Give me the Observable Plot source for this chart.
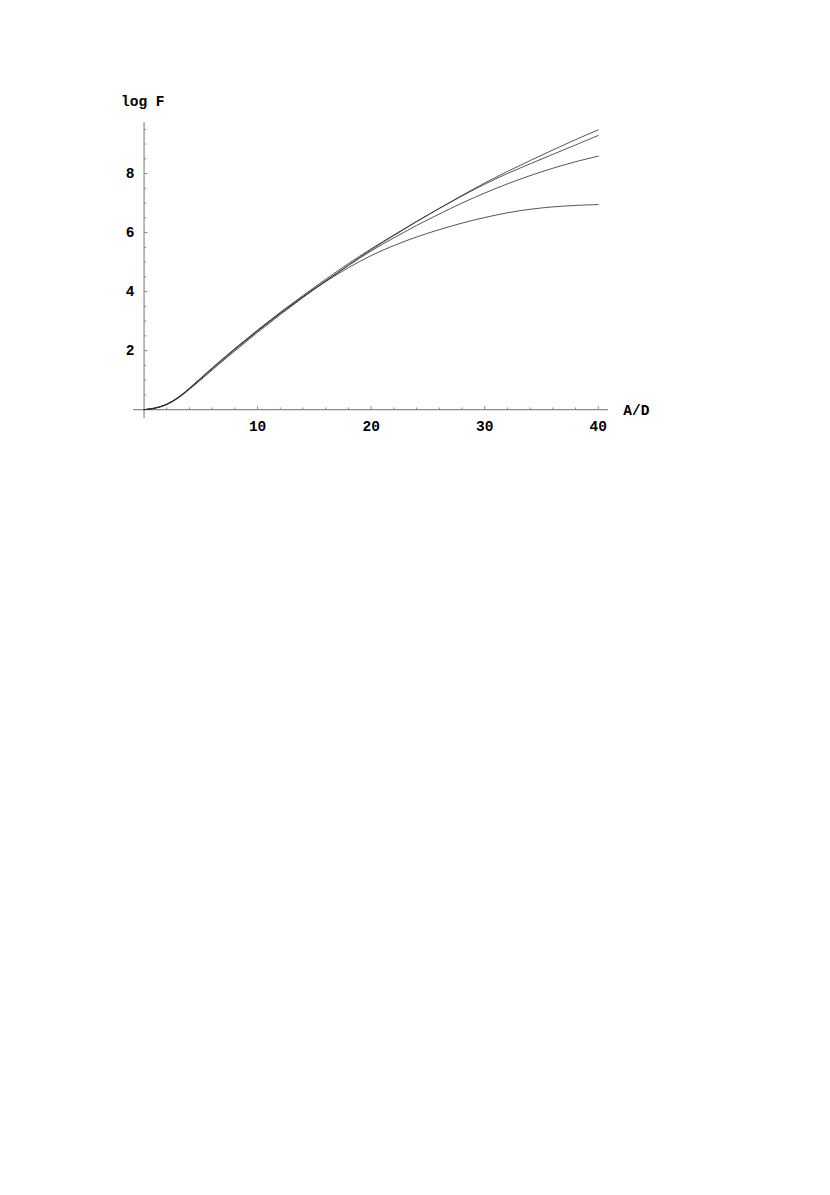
<!DOCTYPE html>
<html>
<head>
<meta charset="utf-8">
<script src="https://cdn.jsdelivr.net/npm/d3@7"></script>
<script src="https://cdn.jsdelivr.net/npm/@observablehq/plot@0.6"></script>
<style>
  html, body { margin: 0; padding: 0; background: #fff; }
  #chart { width: 830px; height: 1195px; background: #fff; }
</style>
</head>
<body>
<div id="chart"></div>
<script>
// A/D sample positions
const xs = [0, 1, 2, 3, 4, 5, 6, 8, 10, 12, 14, 16, 18, 20, 22, 24, 26, 28, 30, 32, 34, 36, 38, 40];
// log F for the four curves
const curveA = [0, 0.05, 0.17, 0.39, 0.69, 1.01, 1.34, 1.99, 2.62, 3.22, 3.80, 4.36, 4.90, 5.42, 5.90, 6.37, 6.82, 7.26, 7.68, 8.07, 8.44, 8.80, 9.15, 9.48];
const curveB = [0, 0.06, 0.18, 0.41, 0.72, 1.06, 1.41, 2.07, 2.70, 3.30, 3.87, 4.42, 4.95, 5.45, 5.92, 6.38, 6.82, 7.24, 7.64, 8.00, 8.33, 8.65, 8.97, 9.29];
const curveC = [0, 0.05, 0.18, 0.40, 0.71, 1.04, 1.38, 2.03, 2.66, 3.26, 3.83, 4.37, 4.88, 5.38, 5.82, 6.24, 6.63, 7.00, 7.34, 7.65, 7.93, 8.18, 8.40, 8.59];
const curveD = [0, 0.06, 0.19, 0.42, 0.73, 1.07, 1.41, 2.06, 2.68, 3.27, 3.82, 4.34, 4.81, 5.22, 5.56, 5.85, 6.10, 6.32, 6.51, 6.67, 6.79, 6.87, 6.92, 6.95];
const seriesNames = ["A", "B", "C", "D"];

// ticks
const xMajor = [10, 20, 30, 40];
const xMinor = [2, 4, 6, 8, 12, 14, 16, 18, 22, 24, 26, 28, 32, 34, 36, 38];
const yMajor = [2, 4, 6, 8];
const yMinor = [0.5, 1, 1.5, 2.5, 3, 3.5, 4.5, 5, 5.5, 6.5, 7, 7.5, 8.5, 9, 9.5];
const xLabel = "A/D";
const yLabel = "log F";

const allSeries = [curveA, curveB, curveC, curveD];
const rows = [];
allSeries.forEach((vals, i) => vals.forEach((v, j) => rows.push({series: seriesNames[i], x: xs[j], y: v})));

const font = "Liberation Mono, Courier New, monospace";
const axisColor = "#8c8c8c";

// tick symbols: a plain stroke of length r in a given direction
const hTick = {draw(ctx, size) { const l = Math.sqrt(size / Math.PI); ctx.moveTo(0, 0); ctx.lineTo(l, 0); }};
const vTick = {draw(ctx, size) { const l = Math.sqrt(size / Math.PI); ctx.moveTo(0, 0); ctx.lineTo(0, -l); }};

const chart = Plot.plot({
  width: 830,
  height: 460,
  marginLeft: 133,
  marginRight: 222,
  marginTop: 122,
  marginBottom: 42,
  style: {fontFamily: font, background: "#fff"},
  x: {domain: [-0.93, 40.9], axis: null},
  y: {domain: [-0.3, 9.73], axis: null},
  marks: [
    Plot.ruleY([0], {stroke: axisColor, strokeWidth: 1.2}),
    Plot.ruleX([0], {stroke: axisColor, strokeWidth: 1.2}),
    Plot.dot(yMajor, {x: 0, y: d => d, symbol: hTick, r: 3.5, fill: "none", stroke: axisColor, strokeWidth: 1}),
    Plot.dot(yMinor, {x: 0, y: d => d, symbol: hTick, r: 2.2, fill: "none", stroke: axisColor, strokeWidth: 1}),
    Plot.dot(xMajor, {x: d => d, y: 0, symbol: vTick, r: 3.5, fill: "none", stroke: axisColor, strokeWidth: 1}),
    Plot.dot(xMinor, {x: d => d, y: 0, symbol: vTick, r: 2.2, fill: "none", stroke: axisColor, strokeWidth: 1}),
    Plot.line(rows, {x: "x", y: "y", z: "series", curve: "catmull-rom", stroke: "#2a2a2a", strokeWidth: 0.8}),
    Plot.text(xMajor, {x: d => d, y: 0, dy: 17, text: d => String(d), fontSize: 14.5, fontWeight: "bold", fill: "#000", fontFamily: font}),
    Plot.text(yMajor, {x: 0, y: d => d, dx: -9.5, textAnchor: "end", text: d => String(d), fontSize: 14.5, fontWeight: "bold", fill: "#000", fontFamily: font}),
    Plot.text([xLabel], {x: 40, y: 0, dx: 25, dy: 1, textAnchor: "start", text: d => d, fontSize: 14.5, fontWeight: "bold", fill: "#000", fontFamily: font}),
    Plot.text([yLabel], {x: 0, y: 9.73, dx: -23, dy: -21, textAnchor: "start", text: d => d, fontSize: 14.5, fontWeight: "bold", fill: "#000", fontFamily: font})
  ]
});
document.getElementById("chart").appendChild(chart);
</script>
</body>
</html>
